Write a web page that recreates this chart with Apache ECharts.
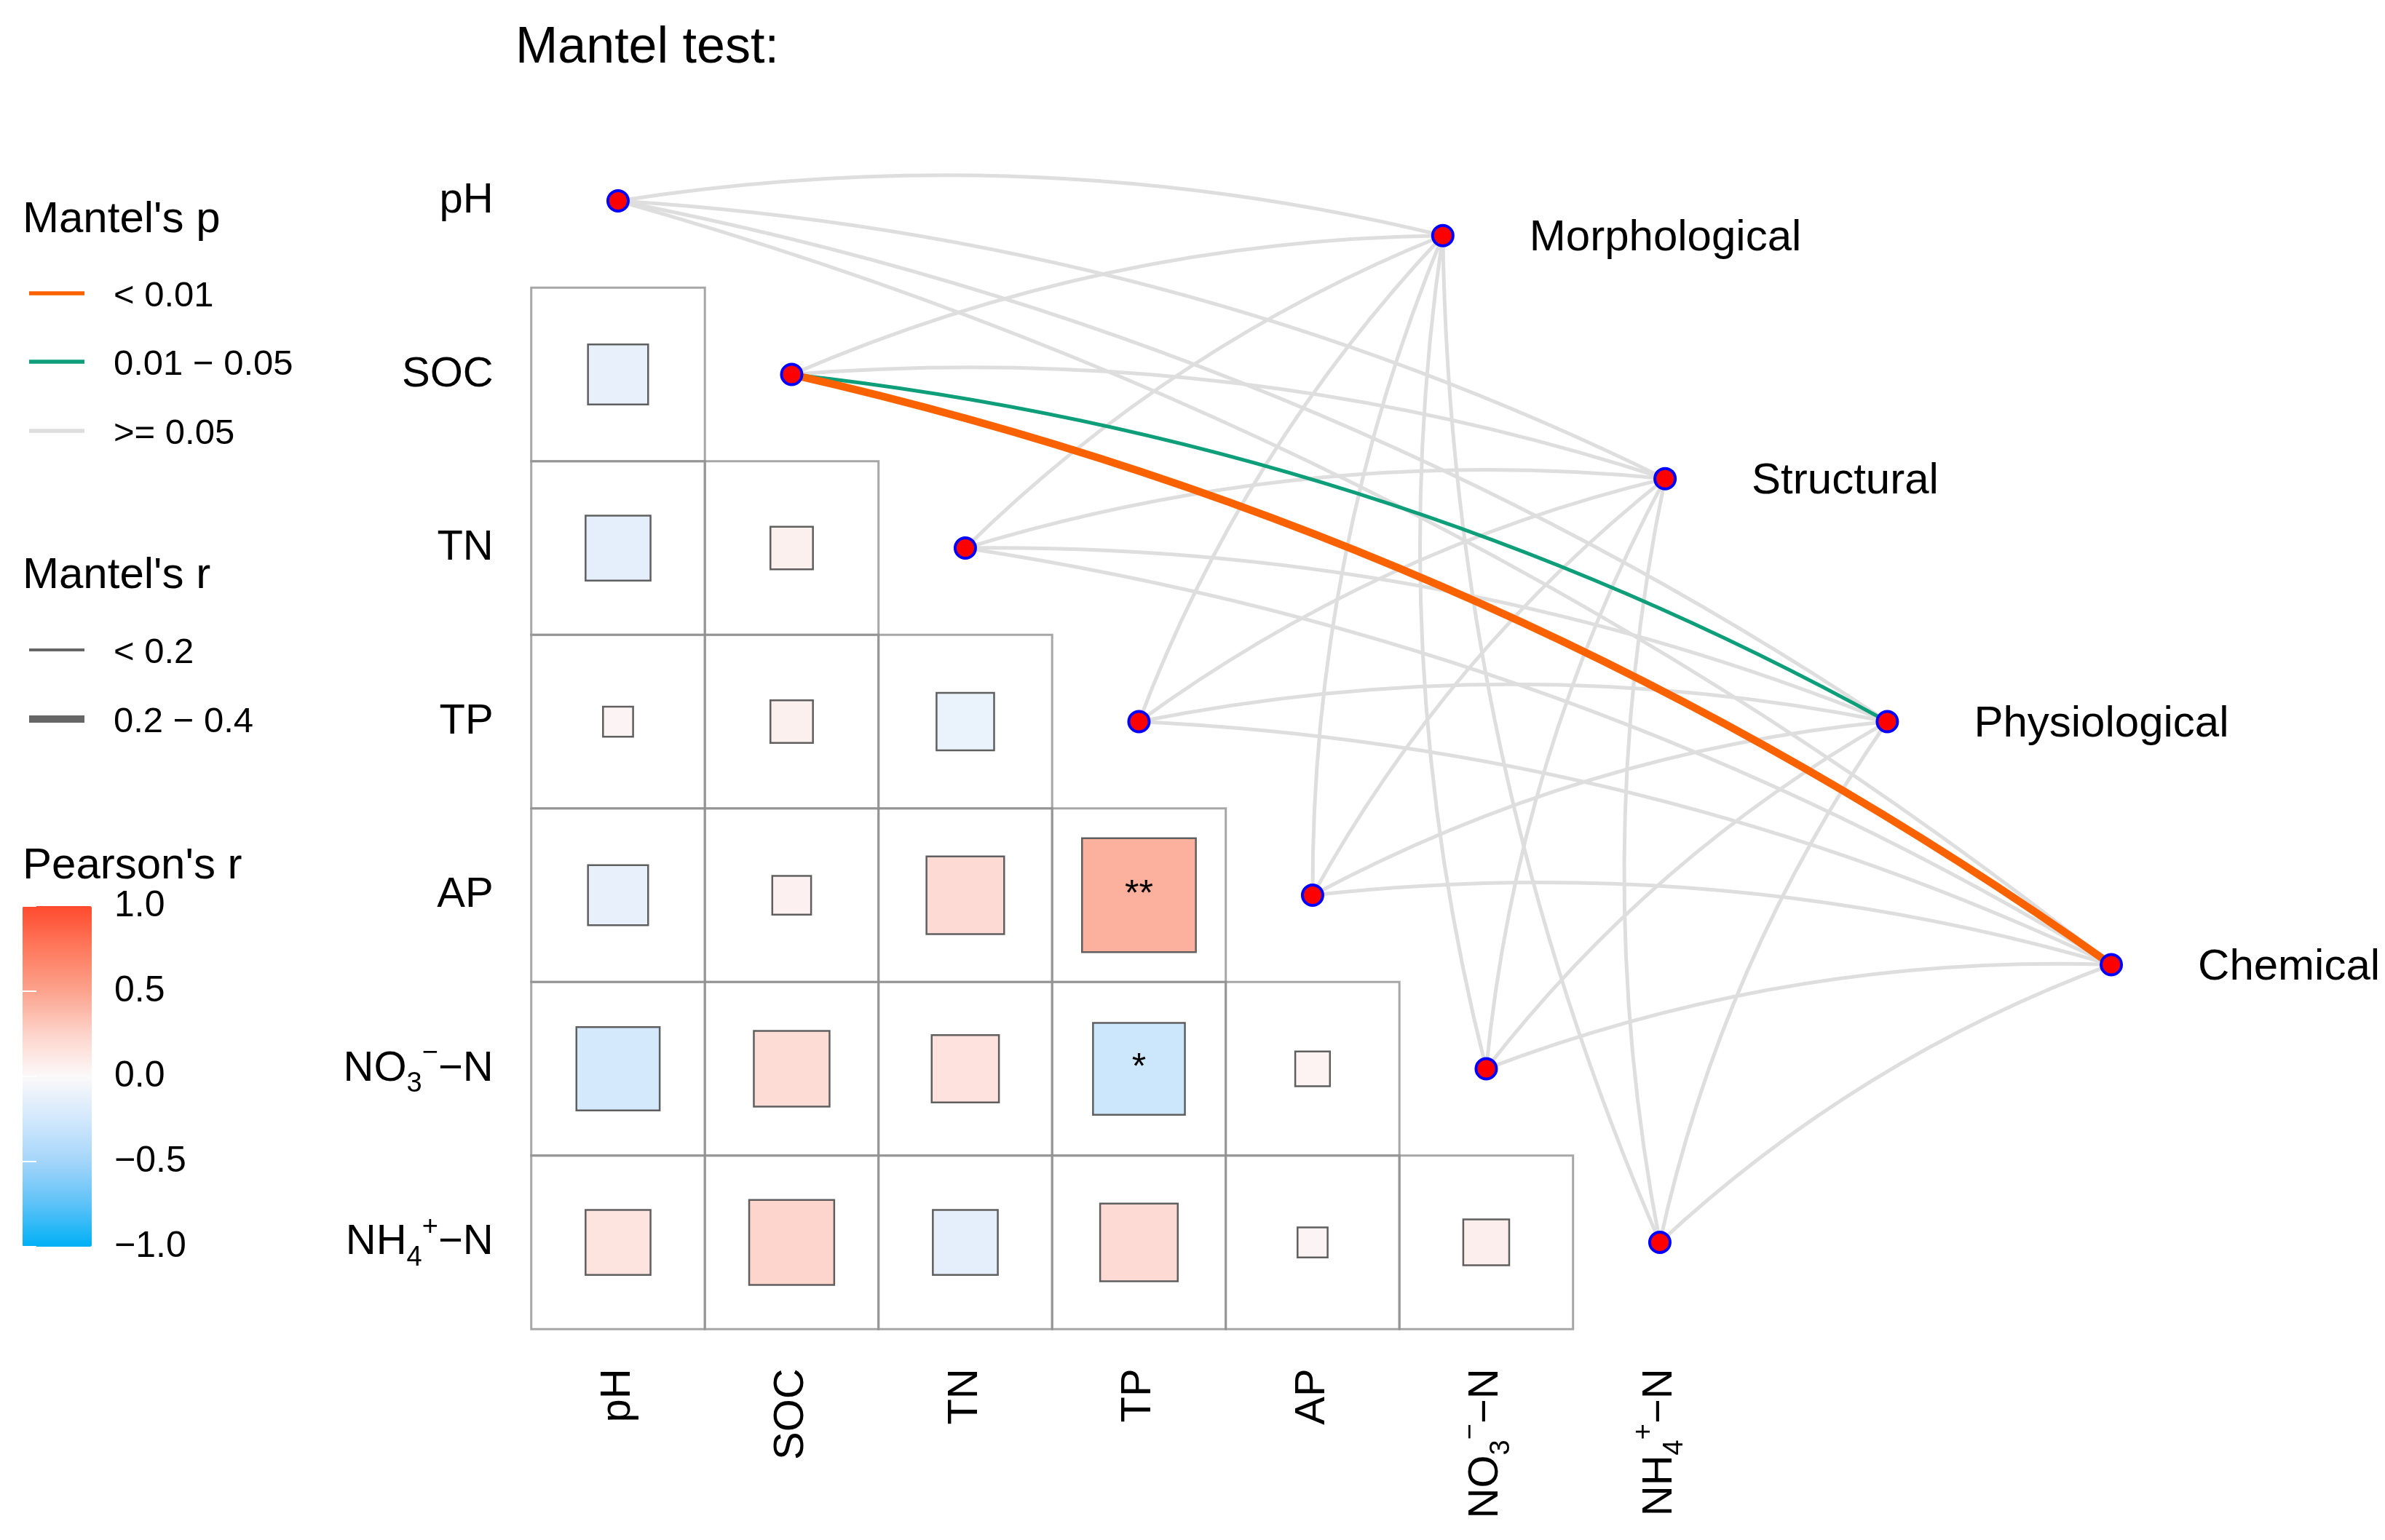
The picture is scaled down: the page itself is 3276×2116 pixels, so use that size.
<!DOCTYPE html>
<html>
<head>
<meta charset="utf-8">
<script src="https://cdn.jsdelivr.net/npm/echarts@6/dist/echarts.min.js"></script>
<style>
html, body { margin: 0; padding: 0; background: #fff; }
#main { width: 3276px; height: 2116px; }
</style>
</head>
<body>
<div id="main"></div>
<script>
// environmental factors (rows / columns of the matrix)
var envNames = ['pH', 'SOC', 'TN', 'TP', 'AP', 'NO3-N', 'NH4-N'];
var envLabels = ['pH', 'SOC', 'TN', 'TP', 'AP',
    '{n|NO}{sub|3}{sup|\u2212}{n|\u2212N}', '{n|NH}{sub|4}{sup|+}{n|\u2212N}'];

// trait groups and where they sit (in matrix units)
var groupNames = ['Morphological', 'Structural', 'Physiological', 'Chemical'];
var groupX = [4.75, 6.03, 7.31, 8.6];
var groupY = [0.2, 1.6, 3.0, 4.4];

// Pearson's r, lower triangle: row i holds columns 0..i-1
var pearsonR = [
    [],
    [-0.12],
    [-0.14, 0.06],
    [0.03, 0.06, -0.11],
    [-0.12, 0.05, 0.20, 0.43],
    [-0.23, 0.19, 0.15, -0.28, 0.04],
    [0.14, 0.24, -0.14, 0.20, 0.03, 0.07]
];
var pearsonSig = [
    [],
    [''],
    ['', ''],
    ['', '', ''],
    ['', '', '', '**'],
    ['', '', '', '*', ''],
    ['', '', '', '', '', '']
];

// Mantel test classes, env x group
// p: 0 = '< 0.01', 1 = '0.01 - 0.05', 2 = '>= 0.05'
var mantelP = [
    [2, 2, 2, 2],
    [2, 2, 1, 0],
    [2, 2, 2, 2],
    [2, 2, 2, 2],
    [2, 2, 2, 2],
    [2, 2, 2, 2],
    [2, 2, 2, 2]
];
// r: 0 = '< 0.2', 1 = '0.2 - 0.4'
var mantelR = [
    [0, 0, 0, 0],
    [0, 0, 0, 1],
    [0, 0, 0, 0],
    [0, 0, 0, 0],
    [0, 0, 0, 0],
    [0, 0, 0, 0],
    [0, 0, 0, 0]
];
var pLabels = ['< 0.01', '0.01 \u2212 0.05', '>= 0.05'];
var rLabels = ['< 0.2', '0.2 \u2212 0.4'];
var colorTicks = [-1, -0.5, 0, 0.5, 1];

var FONT = 'Liberation Sans, Arial, sans-serif';
var CELL = 238.5;
var pColors = ['#FA6200', '#0E9E79', '#DEDEDE'];
var rWidths = [5, 10.5];

var chart = echarts.init(document.getElementById('main'));

// matrix cells
var frameData = [], squareData = [];
for (var i = 0; i < pearsonR.length; i++) {
    for (var j = 0; j < pearsonR[i].length; j++) {
        frameData.push([j, i]);
        squareData.push([j, i, pearsonR[i][j], pearsonSig[i][j]]);
    }
}

// network nodes and links
var nodes = [];
envNames.forEach(function (n, i) {
    nodes.push({ name: n, value: [i, i], label: { show: false } });
});
groupNames.forEach(function (n, g) {
    nodes.push({ name: n, value: [groupX[g], groupY[g]] });
});
var links = [];
envNames.forEach(function (n, e) {
    groupNames.forEach(function (gname, g) {
        links.push({
            source: n,
            target: gname,
            pClass: mantelP[e][g],
            lineStyle: {
                color: pColors[mantelP[e][g]],
                width: rWidths[mantelR[e][g]],
                curveness: 0.1,
                opacity: 1
            }
        });
    });
});
links.sort(function (a, b) { return b.pClass - a.pClass; });

var richLabel = {
    n: { fontSize: 58, fontFamily: FONT, color: '#000', lineHeight: 80 },
    sub: { fontSize: 38, fontFamily: FONT, color: '#000', lineHeight: 38, verticalAlign: 'bottom' },
    sup: { fontSize: 38, fontFamily: FONT, color: '#000', lineHeight: 38, verticalAlign: 'top' }
};

// legend graphics
var legendEls = [];
function addText(x, y, t, size) {
    legendEls.push({
        type: 'text', left: x, top: y - size / 2 + 4,
        style: { text: t, fontSize: size, fontFamily: FONT, fill: '#000' }
    });
}
function addLine(y, color, w) {
    legendEls.push({
        type: 'line', shape: { x1: 40, y1: y, x2: 116, y2: y },
        style: { stroke: color, lineWidth: w }
    });
}
legendEls.push({
    type: 'text', left: 708, top: 32,
    style: { text: 'Mantel test:', fontSize: 70, fontFamily: FONT, fill: '#000' }
});
addText(31, 298, "Mantel's p", 60);
[403, 497, 592].forEach(function (y, k) {
    addLine(y, pColors[k], 5.5);
    addText(156, y, pLabels[k], 49);
});
addText(31, 787, "Mantel's r", 60);
[893, 988].forEach(function (y, k) {
    addLine(y, '#666666', k === 0 ? 4 : 10);
    addText(156, y, rLabels[k], 49);
});
addText(31, 1186, "Pearson's r", 60);

var option = {
    backgroundColor: '#fff',
    animation: false,
    graphic: legendEls,
    grid: [
        { left: 729.7, top: 156.8, width: CELL * 10, height: CELL * 7 },
        { left: 31, top: 1245, width: 95, height: 468 }
    ],
    xAxis: [{
        type: 'value',
        gridIndex: 0,
        min: -0.5,
        max: 9.5,
        axisLine: { show: false },
        axisTick: { show: false },
        splitLine: { show: false },
        axisLabel: {
            customValues: [0, 1, 2, 3, 4, 5, 6],
            formatter: function (v) { return envLabels[Math.round(v)]; },
            rotate: 90,
            margin: 54,
            fontSize: 58,
            fontFamily: FONT,
            color: '#000',
            rich: richLabel
        }
    }, {
        type: 'value', gridIndex: 1, show: false, min: 0, max: 1
    }],
    yAxis: [{
        type: 'value',
        gridIndex: 0,
        min: -0.5,
        max: 6.5,
        inverse: true,
        axisLine: { show: false },
        axisTick: { show: false },
        splitLine: { show: false },
        axisLabel: {
            customValues: [0, 1, 2, 3, 4, 5, 6],
            formatter: function (v) { return envLabels[Math.round(v)]; },
            margin: 52,
            fontSize: 58,
            fontFamily: FONT,
            color: '#000',
            rich: richLabel
        }
    }, {
        type: 'value',
        gridIndex: 1,
        position: 'right',
        min: -1,
        max: 1,
        interval: 0.5,
        z: 10,
        axisLine: { show: false },
        splitLine: { show: false },
        axisTick: { inside: true, length: 19, lineStyle: { color: '#fff', width: 2 } },
        axisLabel: {
            customValues: colorTicks,
            margin: 31,
            fontSize: 50,
            fontFamily: FONT,
            color: '#000',
            formatter: function (v) { return v.toFixed(1).replace('-', '\u2212'); }
        }
    }, {
        type: 'value',
        gridIndex: 1,
        position: 'left',
        min: -1,
        max: 1,
        interval: 0.5,
        z: 10,
        axisLine: { show: false },
        splitLine: { show: false },
        axisLabel: { show: false },
        axisTick: { inside: true, length: 19, lineStyle: { color: '#fff', width: 2 } }
    }],
    visualMap: {
        type: 'continuous',
        seriesIndex: 1,
        dimension: 2,
        min: -1,
        max: 1,
        calculable: false,
        left: 31,
        top: 1245,
        itemWidth: 95,
        itemHeight: 468,
        padding: 0,
        inRange: {
            color: ['#00B0F5', '#5DC2F8', '#A4D5FA', '#D2E8FC', '#FCF9FA',
                '#FDD3CA', '#FCA38D', '#FE7A5E', '#FF4A2E']
        }
    },
    series: [{
        type: 'scatter',
        xAxisIndex: 0,
        yAxisIndex: 0,
        silent: true,
        symbol: 'rect',
        symbolSize: CELL,
        itemStyle: { color: 'rgba(255,255,255,0)', borderColor: '#919191', borderWidth: 3 },
        data: frameData,
        z: 1
    }, {
        type: 'scatter',
        xAxisIndex: 0,
        yAxisIndex: 0,
        silent: true,
        symbol: 'rect',
        symbolSize: function (v) { return CELL * Math.sqrt(Math.abs(v[2])); },
        itemStyle: { borderColor: '#5F5F5F', borderWidth: 2.5, opacity: 1 },
        label: {
            show: true,
            position: 'inside',
            formatter: function (p) { return p.data[3]; },
            fontSize: 50,
            fontFamily: FONT,
            color: '#000'
        },
        data: squareData,
        z: 2
    }, {
        type: 'graph',
        coordinateSystem: 'cartesian2d',
        xAxisIndex: 0,
        yAxisIndex: 0,
        silent: true,
        symbol: 'circle',
        symbolSize: 28,
        itemStyle: { color: '#FF0000', borderColor: '#0000FF', borderWidth: 4 },
        label: {
            show: true,
            position: 'right',
            distance: 103,
            offset: [0, 4],
            fontSize: 60,
            fontFamily: FONT,
            color: '#000',
            formatter: '{b}'
        },
        data: nodes,
        links: links,
        z: 3
    }]
};
chart.setOption(option);
</script>
</body>
</html>
